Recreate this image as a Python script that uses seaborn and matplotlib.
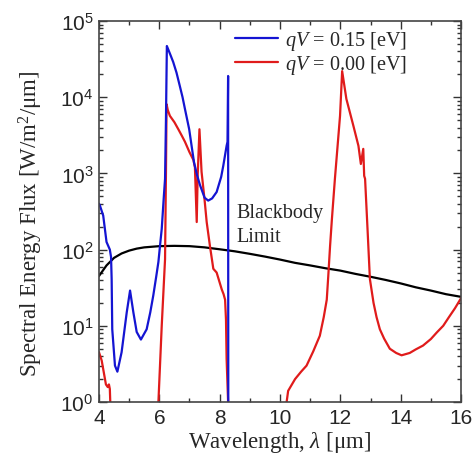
import matplotlib
matplotlib.use("Agg")
import matplotlib.pyplot as plt
import seaborn as sns
import numpy as np
import pandas as pd
from matplotlib.ticker import MultipleLocator, LogLocator, NullFormatter, FixedLocator
from matplotlib.lines import Line2D

# ---- data ----
blue_x = [4.00, 4.03, 4.14, 4.25, 4.36, 4.40, 4.42, 4.44, 4.53, 4.61, 4.75, 4.92, 5.03, 5.14,
          5.25, 5.39, 5.58, 5.70, 5.80, 5.90, 5.97, 6.03, 6.08, 6.15, 6.19, 6.22, 6.25, 6.30,
          6.38, 6.46, 6.57, 6.68, 6.77, 6.85, 6.99, 7.07, 7.15, 7.25, 7.35, 7.50, 7.62, 7.75,
          7.90, 8.05, 8.12, 8.23, 8.26, 8.28, 8.29]
blue_y = [400, 380, 280, 126, 100, 80, 41, 9, 3, 2.5, 4.5, 15, 29, 15,
          8.3, 6.6, 9, 15, 25, 45, 69, 120, 187, 500, 850, 5000, 47000, 42000,
          35000, 29000, 21000, 14000, 10000, 7000, 3800, 2300, 1400, 950, 700, 480, 440, 470,
          570, 900, 1260, 2300, 2600, 19000, 0.001]

red_x = [4.00, 4.09, 4.18, 4.23, 4.29, 4.33, 4.36, 4.40, 4.41,
         5.96, 5.97, 6.08, 6.19, 6.22, 6.24, 6.28, 6.35, 6.50, 6.63, 6.75, 6.85, 7.00, 7.13,
         7.18, 7.24, 7.27, 7.33, 7.40, 7.50, 7.57, 7.68, 7.79, 7.90, 8.00, 8.07, 8.13, 8.18,
         8.21, 8.23, 8.28, 8.29,
         10.21, 10.22, 10.27, 10.50, 10.70, 10.88, 11.10, 11.32, 11.45, 11.55, 11.60, 11.66,
         11.72, 11.82, 11.99, 12.06, 12.20, 12.43, 12.60, 12.68, 12.76, 12.79, 12.82, 12.90,
         12.98, 13.10, 13.20, 13.31, 13.45, 13.64, 13.85, 14.03, 14.30, 14.50, 14.74, 15.00,
         15.20, 15.41, 15.60, 15.80, 15.97, 16.00]
red_y = [4.5, 3.5, 2.2, 1.7, 1.57, 1.7, 1.48, 0.5, 0.001,
         0.001, 1.0, 10, 75, 1000, 8100, 6800, 5700, 4700, 3800, 3100, 2600, 1900, 1500,
         1200, 230, 900, 3800, 1050, 450, 230, 110, 56, 50, 37, 30, 26, 22,
         12, 3.7, 1.0, 0.001,
         0.001, 1.0, 1.4, 2.0, 2.5, 3.0, 4.6, 7.4, 13, 22, 45, 112,
         250, 850, 5700, 22000, 9500, 4250, 2300, 1330, 2100, 930, 850, 190,
         41, 20, 13, 9, 6.8, 5.0, 4.4, 4.1, 4.4, 4.9, 5.5, 6.7,
         8.2, 10, 13, 17, 22, 23]

bb_x = [4.0, 4.25, 4.5, 4.75, 5.0, 5.25, 5.5, 6.0, 6.5, 7.0, 7.5, 8.0, 8.5, 9.0, 9.5, 10.0,
        10.5, 11.0, 11.5, 12.0, 12.5, 13.0, 13.5, 14.0, 14.5, 15.0, 15.5, 16.0]
bb_y = [45, 62, 78, 89, 97, 103, 107, 111, 112, 111, 107, 101, 95, 88, 81, 74,
        67, 62, 57, 53, 48, 44, 40, 36, 32, 29, 26, 24]

labels = [r"$qV$ = 0.15 [eV]", r"$qV$ = 0.00 [eV]"]
xticks = [4, 6, 8, 10, 12, 14, 16]
blue_c = "#1414d2"
red_c = "#e01b1b"

sns.set_style("white")
plt.rcParams["font.family"] = ["Liberation Sans", "DejaVu Sans"]
plt.rcParams["mathtext.fontset"] = "custom"
plt.rcParams["mathtext.rm"] = "Liberation Serif"
plt.rcParams["mathtext.it"] = "Liberation Serif:italic"

fig = plt.figure(figsize=(4.77, 4.64), dpi=100)
ax = fig.add_axes([0.2075, 0.1315, 0.759, 0.821])

df_b = pd.DataFrame({"x": blue_x, "y": blue_y})
df_r = pd.DataFrame({"x": red_x, "y": red_y})
df_k = pd.DataFrame({"x": bb_x, "y": bb_y})

sns.lineplot(data=df_k, x="x", y="y", ax=ax, color="black", lw=1.6, sort=False, estimator=None)
sns.lineplot(data=df_r, x="x", y="y", ax=ax, color=red_c, lw=1.6, sort=False, estimator=None)
sns.lineplot(data=df_b, x="x", y="y", ax=ax, color=blue_c, lw=1.6, sort=False, estimator=None)

ax.set_yscale("log")
ax.set_xlim(4, 16)
ax.set_ylim(1, 1e5)
ax.xaxis.set_major_locator(FixedLocator(xticks))
ax.xaxis.set_minor_locator(MultipleLocator(1))
ax.yaxis.set_major_locator(LogLocator(base=10, numticks=10))
ax.yaxis.set_minor_locator(LogLocator(base=10, subs=np.arange(2, 10), numticks=20))
ax.yaxis.set_minor_formatter(NullFormatter())

ax.tick_params(which="both", direction="in", top=True, right=True, bottom=True, left=True,
               color="#333333", width=1.0)
ax.tick_params(which="major", length=6, labelsize=15, pad=4)
ax.tick_params(which="minor", length=3)
for s in ax.spines.values():
    s.set_color("#444444")
    s.set_linewidth(1.2)

ax.set_xlabel(r"Wavelength, $\lambda$ [μm]", family="Liberation Serif", fontsize=16.5, labelpad=2)
ax.set_ylabel(r"Spectral Energy Flux [W/m$^2$/μm]", family="Liberation Serif", fontsize=16.5,
              labelpad=11)
ax.yaxis.label.set_y(0.47)

ax.text(8.54, 215, "Blackbody\nLimit", family="Liberation Serif", fontsize=14.5,
        ha="left", va="center", linespacing=1.35)

handles = [Line2D([], [], color=blue_c, lw=1.6), Line2D([], [], color=red_c, lw=1.6)]
leg = ax.legend(handles, labels, loc="upper right", bbox_to_anchor=(0.885, 1.012), frameon=False,
                prop={"family": "Liberation Serif", "size": 14.6}, handlelength=2.1,
                handletextpad=0.35, labelspacing=0.08, borderaxespad=0.2)

fig.savefig("out.png", dpi=100)
